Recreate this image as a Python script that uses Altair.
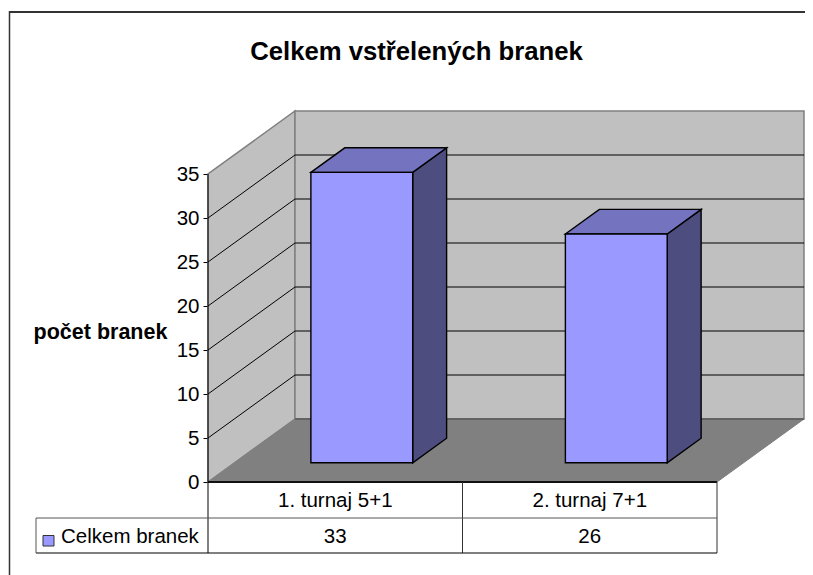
import altair as alt
import pandas as pd

# --- data ---
categories = ["1. turnaj 5+1", "2. turnaj 7+1"]
values = [33, 26]
tick_values = [0, 5, 10, 15, 20, 25, 30, 35]
series_name = "Celkem branek"
title_text = "Celkem vstřelených branek"
y_title = "počet branek"

# --- oblique projection (category units / value units) ---
CAT_PX = 254.5
VAL_PX = 8.8
W, H = 596, 371
DX = 87 / CAT_PX
DY = 63 / VAL_PX
N = len(categories)
BAR_W = 0.4
D0, D1 = 0.305, 0.695
FONT = "Liberation Sans"

x_scale = alt.Scale(domain=[0, W / CAT_PX], nice=False, zero=False)
y_scale = alt.Scale(domain=[0, H / VAL_PX], nice=False, zero=False)


def P(c, v, d=0.0):
    return (c + d * DX, v + d * DY)


def poly(points, fill=None, stroke=None, sw=1.0):
    df = pd.DataFrame([{"x": p[0], "y": p[1], "o": i} for i, p in enumerate(points)])
    kw = {"interpolate": "linear-closed", "clip": False}
    kw["fill"] = fill if fill else "transparent"
    kw["stroke"] = stroke if stroke else "transparent"
    kw["strokeWidth"] = sw if stroke else 0
    return alt.Chart(df).mark_line(**kw).encode(
        x=alt.X("x:Q", scale=x_scale, axis=None),
        y=alt.Y("y:Q", scale=y_scale, axis=None),
        order="o:Q",
    )


def seg(a, b, color="black", sw=1.0):
    df = pd.DataFrame([{"x": a[0], "y": a[1], "o": 0}, {"x": b[0], "y": b[1], "o": 1}])
    return alt.Chart(df).mark_line(color=color, strokeWidth=sw, clip=False).encode(
        x=alt.X("x:Q", scale=x_scale, axis=None),
        y=alt.Y("y:Q", scale=y_scale, axis=None),
        order="o:Q",
    )


def txt(x, y, s, size, bold=False, align="center"):
    df = pd.DataFrame([{"x": x, "y": y, "t": s}])
    return alt.Chart(df).mark_text(
        font=FONT, fontSize=size, fontWeight="bold" if bold else "normal",
        align=align, baseline="middle", color="black", clip=False,
    ).encode(
        x=alt.X("x:Q", scale=x_scale, axis=None),
        y=alt.Y("y:Q", scale=y_scale, axis=None),
        text="t:N",
    )


def px_x(p):  # image pixel -> category units
    return (p - 208) / CAT_PX


def px_y(p):  # image pixel -> value units
    return (482 - p) / VAL_PX


layers = []
top = tick_values[-1]
GRAY = "#808080"

# frame: only the top and left edges fall inside the picture
layers.append(seg((px_x(9.5), px_y(12)), (px_x(813), px_y(12)), "#333333", 2))
layers.append(seg((px_x(9.5), px_y(11)), (px_x(9.5), px_y(575)), "#333333", 1.5))

# walls and floor
layers.append(poly([P(0, 0), P(0, top), P(0, top, 1), P(0, 0, 1)], fill="#C0C0C0", stroke=GRAY, sw=1.5))
layers.append(poly([P(0, 0, 1), P(0, top, 1), P(N, top, 1), P(N, 0, 1)], fill="#C0C0C0", stroke=GRAY, sw=1.5))
layers.append(poly([P(0, 0), P(0, 0, 1), P(N, 0, 1), P(N, 0)], fill=GRAY, stroke=GRAY))

# gridlines
for t in tick_values[1:-1]:
    layers.append(seg(P(0, t), P(0, t, 1)))
    layers.append(seg(P(0, t, 1), P(N, t, 1)))
layers.append(seg(P(0, 0, 1), P(N, 0, 1), "#595959", 1.5))

# bars
for i, v in enumerate(values):
    x0 = i + (1 - BAR_W) / 2
    x1 = x0 + BAR_W
    layers.append(poly([P(x1, 0, D0), P(x1, v, D0), P(x1, v, D1), P(x1, 0, D1)], "#4D4D80", "black", 1.4))
    layers.append(poly([P(x0, v, D0), P(x0, v, D1), P(x1, v, D1), P(x1, v, D0)], "#7373BF", "black", 1.4))
    layers.append(poly([P(x0, 0, D0), P(x0, v, D0), P(x1, v, D0), P(x1, 0, D0)], "#9999FF", "black", 1.4))

# data table
row1, row2 = px_y(518), px_y(553)
left = px_x(36)
layers.append(seg(P(0, 0), P(N, 0), "#111111", 2))
layers.append(seg((0, top), (0, row2)))
layers.append(seg((1, 0), (1, row2), "#333333"))
layers.append(seg((N, 0), (N, row2), "#333333"))
layers.append(seg((left, row1), (N, row1), "#555555"))
layers.append(seg((left, row2), (N, row2)))
layers.append(seg((left, row1), (left, row2), "#555555"))
for i, (c, v) in enumerate(zip(categories, values)):
    layers.append(txt(i + 0.5, px_y(501), c, 20.5))
    layers.append(txt(i + 0.5, px_y(537), str(v), 20.5))

# legend key and text
layers.append(poly([(px_x(43), px_y(535.5)), (px_x(54), px_y(535.5)),
                    (px_x(54), px_y(546)), (px_x(43), px_y(546))], "#9999FF", "#333333"))
layers.append(txt(px_x(61), px_y(537), series_name, 20.5, align="left"))

# titles
layers.append(txt(px_x(416.5), px_y(52), title_text, 25.7, bold=True))

# real value axis
axis_layer = alt.Chart(pd.DataFrame({"y": tick_values})).mark_point(opacity=0).encode(
    x=alt.value(0),
    y=alt.Y("y:Q", scale=y_scale, axis=alt.Axis(
        values=tick_values, domain=False, grid=False, tickColor="black", tickSize=5,
        labelFont=FONT, labelFontSize=20.5, labelColor="black", labelPadding=4,
        title=y_title, titleFont=FONT, titleFontSize=21.5, titleFontWeight="bold",
        titleColor="black", titleAngle=0, titleAlign="center", titleBaseline="middle",
        titleX=-108, titleY=221,
    )),
)
layers.append(axis_layer)

chart = alt.layer(*layers).resolve_scale(x="shared", y="shared").resolve_axis(y="independent").properties(
    width=W, height=H,
    padding={"left": 200, "top": 103, "right": 1, "bottom": 93},
    autosize=alt.AutoSizeParams(type="none"),
).configure_view(stroke=None)

chart.save("out.html", embed_options={"renderer": "svg", "actions": False})
